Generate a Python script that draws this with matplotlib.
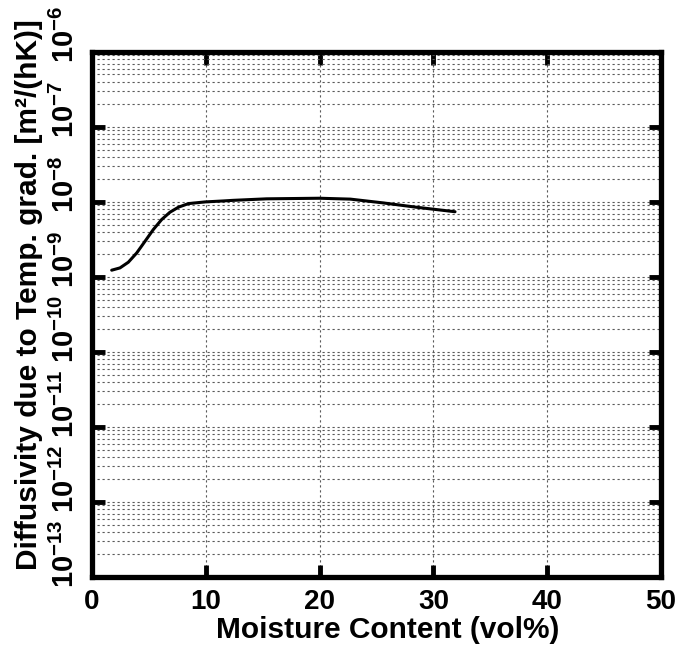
import matplotlib
matplotlib.use('Agg')
import matplotlib.pyplot as plt
import numpy as np

plt.rcParams['font.family'] = ['Liberation Sans', 'DejaVu Sans']
plt.rcParams['font.weight'] = 'bold'
plt.rcParams['mathtext.fontset'] = 'custom'
plt.rcParams['mathtext.rm'] = 'Liberation Sans:bold'
plt.rcParams['mathtext.bf'] = 'Liberation Sans:bold'

# curve
moisture = [1.73, 2.46, 3.19, 3.93, 4.66, 5.39, 6.12, 6.85, 7.59, 8.47, 9.93, 11.5,
            12.4, 15.35, 20.0, 22.7, 25.6, 28.5, 31.9]
diffusivity = [1.23e-9, 1.32e-9, 1.57e-9, 2.09e-9, 2.99e-9, 4.29e-9, 5.82e-9, 7.29e-9,
               8.5e-9, 9.5e-9, 1.0e-8, 1.03e-8, 1.05e-8, 1.10e-8, 1.12e-8, 1.09e-8,
               9.7e-9, 8.5e-9, 7.4e-9]

xticks = [0, 10, 20, 30, 40, 50]
exponents = [-13, -12, -11, -10, -9, -8, -7, -6]

fig = plt.figure(figsize=(6.79, 6.49), dpi=100)
ax = fig.add_axes([0.1355, 0.111, 0.838, 0.809])

ax.plot(moisture, diffusivity, color='black', lw=2.2, solid_capstyle='round', solid_joinstyle='round')

ax.set_yscale('log')
ax.set_xlim(0, 50)
ax.set_ylim(1e-13, 1e-6)

ax.set_xticks(xticks)
ax.set_xticklabels([str(t) for t in xticks], fontsize=20, fontweight='bold')
ax.set_yticks([10.0 ** e for e in exponents])
ax.set_yticklabels([])
ax.yaxis.set_minor_locator(matplotlib.ticker.LogLocator(base=10, subs=np.arange(2, 10), numticks=100))

ax.tick_params(axis='both', which='major', direction='in', length=9, width=3.5,
               top=True, right=True, pad=9)
ax.tick_params(axis='both', which='minor', length=0)

for s in ax.spines.values():
    s.set_linewidth(3.8)

ax.grid(True, which='major', axis='x', color='0.35', linestyle=(0, (2, 2.5)), lw=0.8)
ax.grid(True, which='both', axis='y', color='0.35', linestyle=(0, (2, 2.5)), lw=0.8)

# rotated y tick labels
for e in exponents:
    ax.annotate(r'$\mathbf{10^{%d}}$' % e, xy=(0, 10.0 ** e), xycoords=('axes fraction', 'data'),
                xytext=(-9, -8), textcoords='offset points', rotation=90,
                ha='right', va='bottom', fontsize=21, annotation_clip=False)

fig.text(29 / 679, 1 - 295 / 649, 'Diffusivity due to Temp. grad. [m²/(hK)]',
         rotation=90, ha='center', va='center', fontsize=21.5, fontweight='bold')
fig.text(388 / 679, 1 - 630 / 649, 'Moisture Content (vol%)',
         ha='center', va='center', fontsize=21.5, fontweight='bold')

fig.savefig('out.png', dpi=100)
